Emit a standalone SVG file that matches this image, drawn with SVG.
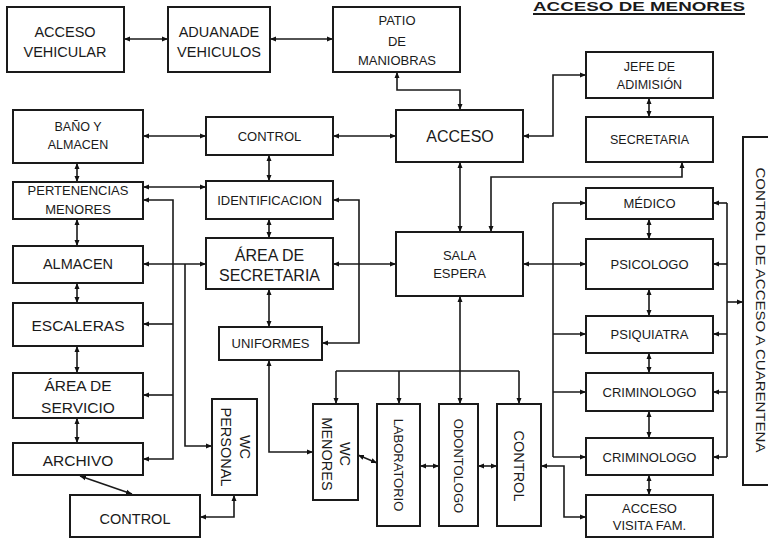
<svg xmlns="http://www.w3.org/2000/svg" width="768" height="539" viewBox="0 0 768 539">
<defs>
<marker id="a" viewBox="0 0 6 6" refX="6" refY="3" markerWidth="6" markerHeight="6" orient="auto-start-reverse" markerUnits="userSpaceOnUse"><path d="M0,0.5L6,3L0,5.5z" fill="#111"/></marker>
<style>
rect{fill:#fff;stroke:#1a1a1a;stroke-width:2}
text{font-family:"Liberation Sans",Arial,sans-serif;font-size:13px;fill:#1a1a1a;text-anchor:middle;dominant-baseline:central}
.c path{fill:none;stroke:#1a1a1a;stroke-width:1.6}
.b{marker-start:url(#a);marker-end:url(#a)}
.e{marker-end:url(#a)}
.l{font-size:14.5px}
.s{font-size:12.5px}
</style>
</defs>
<rect x="0" y="0" width="768" height="539" style="fill:#fff;stroke:none"/>
<g id="title">
<text x="639" y="6" style="font-weight:bold;font-size:13px" textLength="212" lengthAdjust="spacingAndGlyphs">ACCESO  DE MENORES</text>
<path d="M533,14H745" stroke="#1a1a1a" stroke-width="2"/>
</g>
<g class="c">
<path class="b" d="M124,39H168"/>
<path class="b" d="M270,39H333"/>
<path class="b" d="M397,72V90H460V110"/>
<path class="b" d="M143,136H206"/>
<path class="b" d="M333,136H396"/>
<path class="b" d="M523,136H553V75H586"/>
<path class="b" d="M649,98V117"/>
<path class="b" d="M682,162V177H491V232"/>
<path class="b" d="M460,162V232"/>
<path class="b" d="M269,155V181"/>
<path class="b" d="M269,219V238"/>
<path class="b" d="M269,289V327"/>
<path class="b" d="M333,200H359V343H322"/>
<path class="b" d="M269,360V452H313"/>
<path class="b" d="M77,163V182"/>
<path class="b" d="M77,219V246"/>
<path class="b" d="M77,283V303"/>
<path class="b" d="M77,346V373"/>
<path class="b" d="M77,418V443"/>
<path class="b" d="M143,187H206"/>
<path class="b" d="M143,264H206"/>
<path class="b" d="M143,200H173V459H143"/>
<path class="e" d="M173,324H143"/>
<path class="e" d="M173,395H143"/>
<path class="e" d="M185,264V446H212"/>
<path class="b" d="M234,495V517H200"/>
<path class="b" d="M80,476L132,494"/>
<path class="b" d="M333,264H396"/>
<path class="b" d="M523,264H586"/>
<path d="M553,203V457"/>
<path class="e" d="M553,203H586"/>
<path class="e" d="M553,334H586"/>
<path class="e" d="M553,392H586"/>
<path class="e" d="M553,457H586"/>
<path class="b" d="M649,219V239"/>
<path class="b" d="M649,289V316"/>
<path class="b" d="M649,353V373"/>
<path class="b" d="M649,411V438"/>
<path class="b" d="M649,475V495"/>
<path d="M727,203V457"/>
<path class="e" d="M727,203H713"/>
<path class="e" d="M727,264H713"/>
<path class="e" d="M727,334H713"/>
<path class="e" d="M727,392H713"/>
<path class="e" d="M727,457H713"/>
<path class="e" d="M727,302H743"/>
<path class="e" d="M460,371V296"/>
<path d="M336,371H519"/>
<path class="e" d="M336,371V404"/>
<path class="e" d="M399,371V404"/>
<path class="e" d="M460,371V404"/>
<path class="e" d="M519,371V404"/>
<path class="b" d="M358,455L377,463"/>
<path class="b" d="M420,466H439"/>
<path class="b" d="M478,466H497"/>
<path class="b" d="M541,466H564V517H586"/>
</g>
<g id="acceso-vehicular"><rect x="7" y="7" width="117" height="65"/><text class="l" x="65" y="32">ACCESO</text><text class="l" x="65" y="52">VEHICULAR</text></g>
<g id="aduana"><rect x="168" y="7" width="102" height="65"/><text class="l" x="219" y="32">ADUANADE</text><text class="l" x="219" y="52">VEHICULOS</text></g>
<g id="patio"><rect x="333" y="7" width="127" height="65"/><text x="397" y="20">PATIO</text><text x="397" y="41">DE</text><text x="397" y="60">MANIOBRAS</text></g>
<g id="bano"><rect x="13" y="110" width="130" height="53"/><text class="s" x="78" y="127">BAÑO Y</text><text class="s" x="78" y="145">ALMACEN</text></g>
<g id="control-top"><rect x="206" y="117" width="127" height="38"/><text x="269.5" y="136">CONTROL</text></g>
<g id="acceso"><rect x="396" y="110" width="127" height="52"/><text class="l" x="460" y="136" style="font-size:16px">ACCESO</text></g>
<g id="jefe"><rect x="586" y="52" width="127" height="46"/><text class="s" x="649.5" y="67">JEFE DE</text><text class="s" x="649.5" y="85">ADIMISIÓN</text></g>
<g id="secretaria"><rect x="586" y="117" width="127" height="45"/><text class="s" x="649.5" y="140">SECRETARIA</text></g>
<g id="pertenencias"><rect x="13" y="182" width="130" height="37"/><text x="78" y="190">PERTENENCIAS</text><text x="78" y="209">MENORES</text></g>
<g id="identificacion"><rect x="206" y="181" width="127" height="38"/><text x="269.5" y="200">IDENTIFICACION</text></g>
<g id="almacen"><rect x="13" y="246" width="130" height="37"/><text class="l" x="78" y="264">ALMACEN</text></g>
<g id="area-secretaria"><rect x="206" y="238" width="127" height="51"/><text class="l" x="269.5" y="255" style="font-size:16px">ÁREA DE</text><text class="l" x="269.5" y="275" style="font-size:16px">SECRETARIA</text></g>
<g id="escaleras"><rect x="13" y="303" width="130" height="43"/><text class="l" x="78" y="325" style="font-size:15.5px">ESCALERAS</text></g>
<g id="uniformes"><rect x="219" y="327" width="103" height="33"/><text x="270.5" y="343">UNIFORMES</text></g>
<g id="area-servicio"><rect x="13" y="373" width="130" height="45"/><text class="l" x="78" y="385" style="font-size:15.5px">ÁREA DE</text><text class="l" x="78" y="407" style="font-size:15.5px">SERVICIO</text></g>
<g id="archivo"><rect x="13" y="443" width="130" height="32"/><text class="l" x="78" y="460" style="font-size:15.5px">ARCHIVO</text></g>
<g id="control-bottom"><rect x="70" y="495" width="130" height="42"/><text class="l" x="135" y="519">CONTROL</text></g>
<g id="wc-personal"><rect x="212" y="399" width="45" height="96"/><text class="l" transform="translate(245,447) rotate(90)" x="0" y="0">WC</text><text class="l" transform="translate(226,447) rotate(90)" x="0" y="0">PERSONAL</text></g>
<g id="sala-espera"><rect x="396" y="232" width="127" height="64"/><text x="459.5" y="255">SALA</text><text x="459.5" y="273">ESPERA</text></g>
<g id="wc-menores"><rect x="313" y="404" width="45" height="96"/><text class="l" transform="translate(345,454) rotate(90)" x="0" y="0">WC</text><text class="l" transform="translate(327,454) rotate(90)" x="0" y="0">MENORES</text></g>
<g id="laboratorio"><rect x="377" y="404" width="43" height="122"/><text x="0" y="0" transform="translate(398.5,465) rotate(90)">LABORATORIO</text></g>
<g id="odontologo"><rect x="439" y="404" width="39" height="122"/><text x="0" y="0" transform="translate(458.5,466) rotate(90)">ODONTOLOGO</text></g>
<g id="control-v"><rect x="497" y="404" width="44" height="122"/><text class="l" x="0" y="0" transform="translate(519,466) rotate(90)">CONTROL</text></g>
<g id="medico"><rect x="586" y="188" width="127" height="31"/><text x="649.5" y="203">MÉDICO</text></g>
<g id="psicologo"><rect x="586" y="239" width="127" height="50"/><text x="649.5" y="264">PSICOLOGO</text></g>
<g id="psiquiatra"><rect x="586" y="316" width="127" height="37"/><text x="649.5" y="334">PSIQUIATRA</text></g>
<g id="criminologo-1"><rect x="586" y="373" width="127" height="38"/><text x="649.5" y="392">CRIMINOLOGO</text></g>
<g id="criminologo-2"><rect x="586" y="438" width="127" height="37"/><text x="649.5" y="457">CRIMINOLOGO</text></g>
<g id="acceso-visita"><rect x="586" y="495" width="127" height="42"/><text x="649.5" y="508">ACCESO</text><text x="649.5" y="525">VISITA FAM.</text></g>
<g id="control-cuarentena"><rect x="743" y="137" width="40" height="348"/><text x="0" y="0" transform="translate(760,310) rotate(90)" textLength="285" lengthAdjust="spacingAndGlyphs">CONTROL DE ACCESO A CUARENTENA</text></g>
</svg>
